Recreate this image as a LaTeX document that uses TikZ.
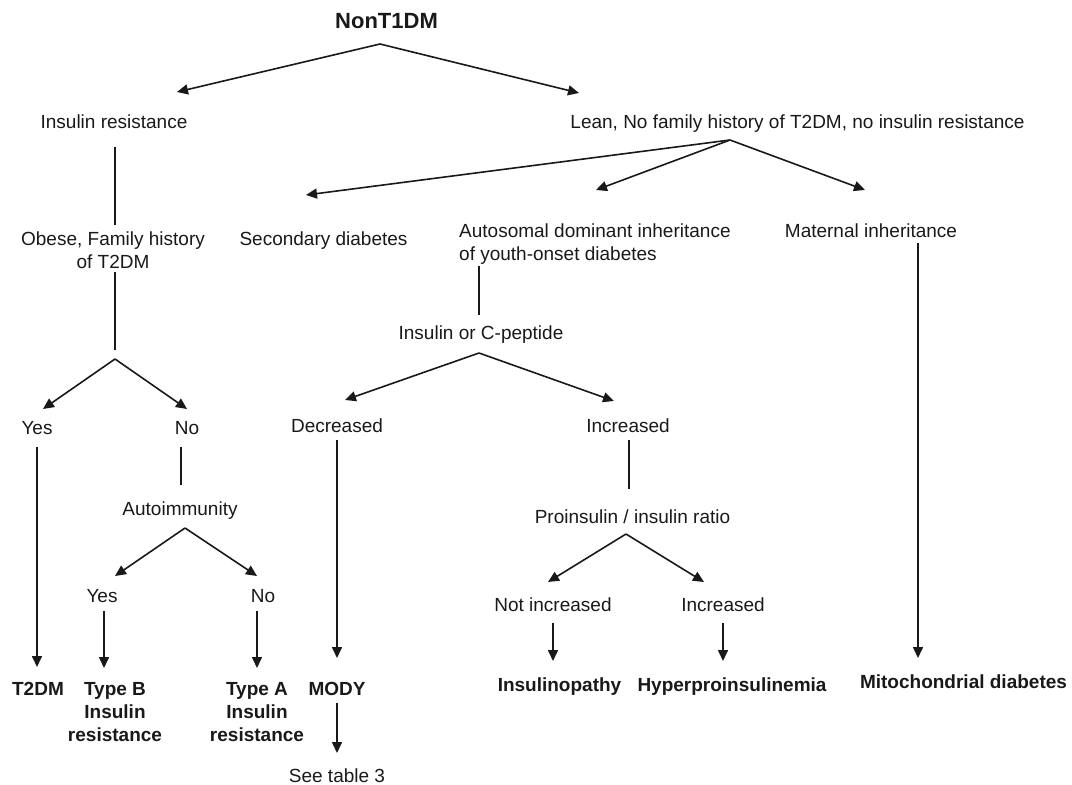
\documentclass[tikz,border=0pt]{standalone}
\usepackage{fontspec}
\setmainfont{Liberation Sans}
\usetikzlibrary{arrows.meta}
\definecolor{ink}{gray}{0.1}
\begin{document}
\begin{tikzpicture}[x=1pt,y=-1pt,
  txt/.style={font=\fontsize{19}{23}\selectfont, text=ink, inner sep=0pt, anchor=base, align=center},
  res/.style={txt, font=\fontsize{19}{23}\selectfont\bfseries},
  ttl/.style={txt, font=\fontsize{22}{26}\selectfont\bfseries},
  conn/.style={draw=ink, line width=1.6pt},
  arr/.style={conn, -{Triangle[length=11pt,width=10pt]}}]
\useasboundingbox (0,0) rectangle (1072,785);

% ---- text nodes (multi-line nodes sit on the baseline of their last line) ----
\node[ttl] (root) at (386.5,28) {NonT1DM};
\node[txt] (ir)   at (114,128) {Insulin resistance};
\node[txt] (lean) at (797.5,128) {Lean, No family history of T2DM, no insulin resistance};
\node[txt] (obese) at (113,268) {Obese, Family history\\of T2DM};
\node[txt] (sec)  at (323.5,245) {Secondary diabetes};
\node[txt, align=left, anchor=base west] (auto) at (459,260) {Autosomal dominant inheritance\\of youth-onset diabetes};
\node[txt] (mat)  at (871,237) {Maternal inheritance};
\node[txt] (cpep) at (481,339) {Insulin or C-peptide};
\node[txt] (yes1) at (37,434) {Yes};
\node[txt] (no1)  at (187,434) {No};
\node[txt] (dec)  at (337,432) {Decreased};
\node[txt] (inc)  at (628,432) {Increased};
\node[txt] (auti) at (180,515) {Autoimmunity};
\node[txt] (pro)  at (632.5,523) {Proinsulin / insulin ratio};
\node[txt] (yes2) at (102,602) {Yes};
\node[txt] (no2)  at (263,602) {No};
\node[txt] (ninc) at (553,611) {Not increased};
\node[txt] (inc2) at (723,611) {Increased};
\node[res] (t2dm) at (38,695) {T2DM};
\node[res] (typb) at (115,741) {Type B\\Insulin\\resistance};
\node[res] (typa) at (257,741) {Type A\\Insulin\\resistance};
\node[res] (mody) at (337,695) {MODY};
\node[res] (inso) at (559.5,691) {Insulinopathy};
\node[res] (hyp)  at (732,691) {Hyperproinsulinemia};
\node[res] (mito) at (963.5,688) {Mitochondrial diabetes};
\node[txt] (tab3) at (337,782) {See table 3};

% ---- connector end points ----
\coordinate (a0) at (380,44);
\coordinate (a0l) at (177,92);
\coordinate (a0r) at (579,93);
\coordinate (ir-s) at (115,147);
\coordinate (ob-n) at (115,225);
\coordinate (a1) at (730,140);
\coordinate (a1l) at (306,195);
\coordinate (a1m) at (596,190);
\coordinate (a1r) at (865,190);
\coordinate (au-s) at (479,266);
\coordinate (cp-n) at (479,315);
\coordinate (ma-s) at (918,243);
\coordinate (mi-n) at (918,658);
\coordinate (ob-s) at (115,272);
\coordinate (ob-e) at (115,350);
\coordinate (a2) at (115,359);
\coordinate (a2l) at (43,409);
\coordinate (a2r) at (187,409);
\coordinate (y1-s) at (37,447);
\coordinate (t2-n) at (37,667);
\coordinate (n1-s) at (181,447);
\coordinate (ai-n) at (181,485);
\coordinate (a3) at (185,528);
\coordinate (a3l) at (115,576);
\coordinate (a3r) at (257,576);
\coordinate (y2-s) at (104,611);
\coordinate (tb-n) at (104,668);
\coordinate (n2-s) at (257,611);
\coordinate (ta-n) at (257,668);
\coordinate (a4) at (479,353);
\coordinate (a4l) at (345,400);
\coordinate (a4r) at (614,401);
\coordinate (de-s) at (337,440);
\coordinate (mo-n) at (337,658);
\coordinate (in-s) at (629,440);
\coordinate (pr-n) at (629,489);
\coordinate (a5) at (626,534);
\coordinate (a5l) at (548,582);
\coordinate (a5r) at (704,582);
\coordinate (ni-s) at (553,623);
\coordinate (is-n) at (553,661);
\coordinate (i2-s) at (723,623);
\coordinate (hy-n) at (723,661);
\coordinate (mo-s) at (337,703);
\coordinate (tb3-n) at (337,753);

% ---- connectors ----
\draw[arr] (a0) -- (a0l);
\draw[arr] (a0) -- (a0r);
\draw[conn] (ir-s) -- (ob-n);
\draw[arr] (a1) -- (a1l);
\draw[arr] (a1) -- (a1m);
\draw[arr] (a1) -- (a1r);
\draw[conn] (au-s) -- (cp-n);
\draw[arr] (ma-s) -- (mi-n);
\draw[conn] (ob-s) -- (ob-e);
\draw[arr] (a2) -- (a2l);
\draw[arr] (a2) -- (a2r);
\draw[arr] (y1-s) -- (t2-n);
\draw[conn] (n1-s) -- (ai-n);
\draw[arr] (a3) -- (a3l);
\draw[arr] (a3) -- (a3r);
\draw[arr] (y2-s) -- (tb-n);
\draw[arr] (n2-s) -- (ta-n);
\draw[arr] (a4) -- (a4l);
\draw[arr] (a4) -- (a4r);
\draw[arr] (de-s) -- (mo-n);
\draw[conn] (in-s) -- (pr-n);
\draw[arr] (a5) -- (a5l);
\draw[arr] (a5) -- (a5r);
\draw[arr] (ni-s) -- (is-n);
\draw[arr] (i2-s) -- (hy-n);
\draw[arr] (mo-s) -- (tb3-n);
\end{tikzpicture}
\end{document}
